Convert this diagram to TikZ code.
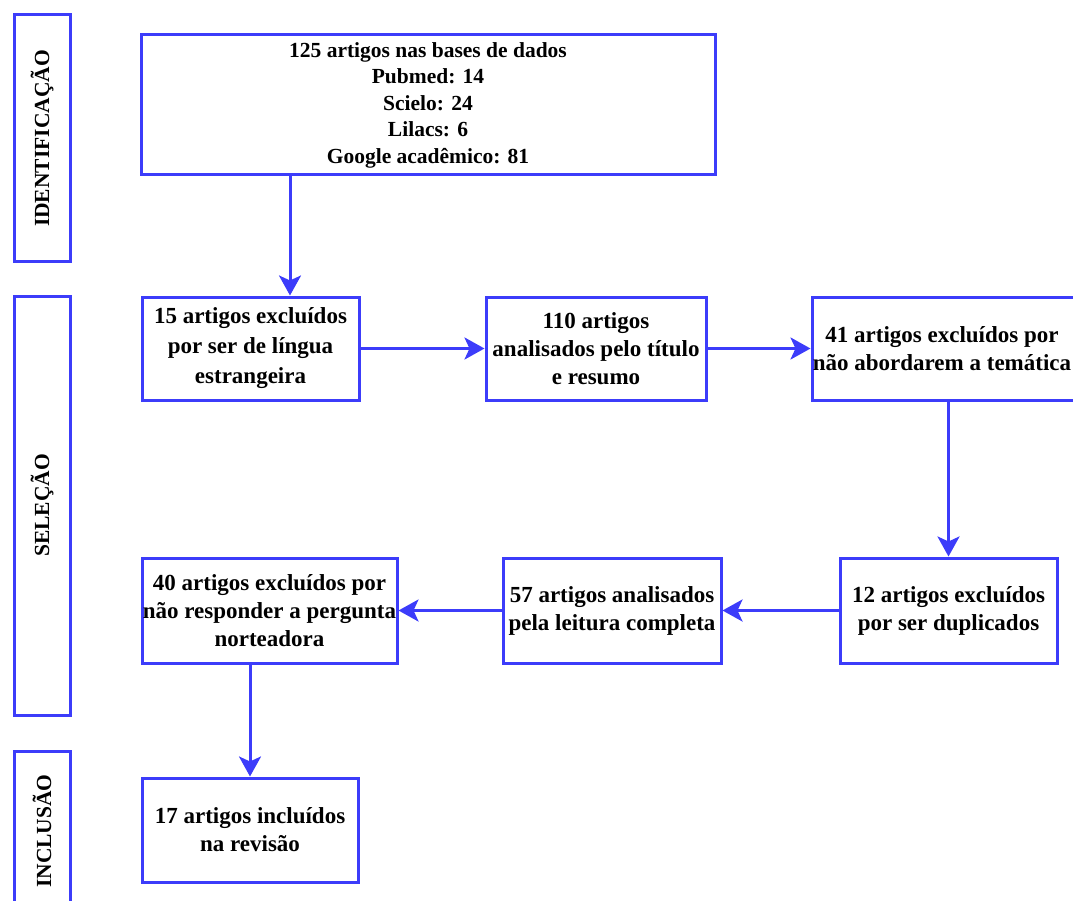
\documentclass[tikz,border=0pt]{standalone}
\usepackage{fontspec}
\setmainfont{Liberation Serif}
\usetikzlibrary{arrows.meta}
\definecolor{flowblue}{RGB}{60,60,250}
\begin{document}
\begin{tikzpicture}[x=1pt,y=-1pt,
  every node/.style={font=\fontsize{23}{28}\selectfont\bfseries},
  box/.style={draw=flowblue,line width=3pt,inner sep=0pt,align=center,fill=white},
  phase/.style={draw=flowblue,line width=3pt,inner sep=0pt,minimum width=56pt},
  ptext/.style={rotate=90,font=\fontsize{21.5}{26}\selectfont\bfseries},
  conn/.style={draw=flowblue,line width=3pt,-{Stealth[length=20pt,width=22pt,inset=5pt]}}]
\useasboundingbox (0,0) rectangle (1073,901);
% phase labels
\node[phase,minimum height=247pt] (id) at (42,138.5) {};
\node[ptext] (idt) at (id.center) {IDENTIFICAÇÃO};
\node[phase,minimum height=419pt] (sel) at (42,505.5) {};
\node[ptext] (selt) at (sel.center) {SELEÇÃO};
\node[phase,minimum height=160pt] (inc) at (42,831) {};
\node[ptext] (inct) at (inc.center) {INCLUSÃO};
% boxes
\node[box,minimum width=574pt,minimum height=140pt,font=\fontsize{21.5}{26.5}\selectfont\bfseries] (top) at (428,105)
  {125 artigos nas bases de dados\\Pubmed: 14\\Scielo: 24\\Lilacs: 6\\Google acadêmico: 81};
\node[box,minimum width=217pt,minimum height=103pt,font=\fontsize{23}{30}\selectfont\bfseries] (a) at (250.5,348.5)
  {15 artigos excluídos\\por ser de língua\\estrangeira};
\node[box,minimum width=220pt,minimum height=103pt] (b) at (596,348.5)
  {110 artigos\\analisados pelo título\\e resumo};
\node[box,minimum width=274pt,minimum height=103pt] (c) at (949,348.5) {};
\node[align=center,inner sep=0pt] (ct) at (942,348.5)
  {41 artigos excluídos por\\não abordarem a temática};
\node[box,minimum width=217pt,minimum height=105pt] (d) at (948.5,610.5)
  {12 artigos excluídos\\por ser duplicados};
\node[box,minimum width=218pt,minimum height=105pt] (e) at (612,610.5)
  {57 artigos analisados\\pela leitura completa};
\node[box,minimum width=255pt,minimum height=105pt] (f) at (269.5,610.5)
  {40 artigos excluídos por\\não responder a pergunta\\norteadora};
\node[box,minimum width=216pt,minimum height=104pt] (g) at (250,830)
  {17 artigos incluídos\\na revisão};
% connectors
\coordinate (x1) at (290,0);
\draw[conn] (top.south -| x1) -- (a.north -| x1);
\draw[conn] (a.east) -- (b.west);
\draw[conn] (b.east) -- (c.west);
\draw[conn] (c.south -| d.north) -- (d.north);
\draw[conn] (d.west) -- (e.east);
\draw[conn] (e.west) -- (f.east);
\draw[conn] (f.south -| g.north) -- (g.north);
\end{tikzpicture}
\end{document}
